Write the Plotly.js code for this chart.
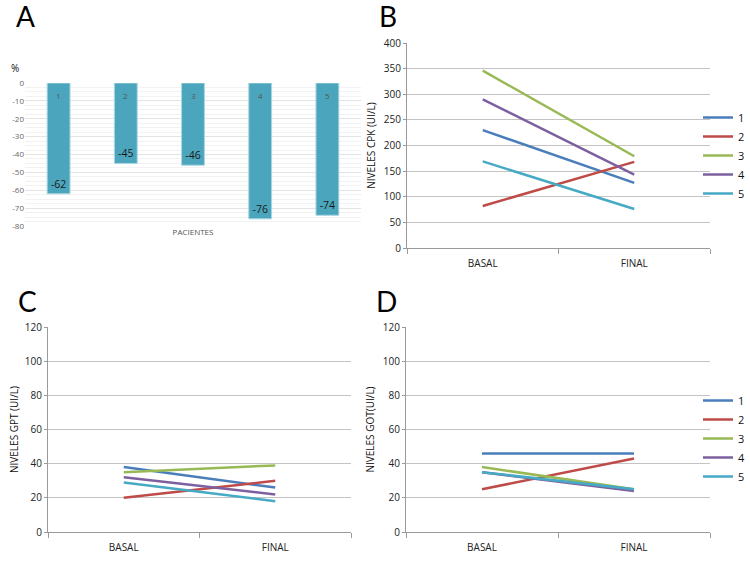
<!DOCTYPE html>
<html>
<head>
<meta charset="utf-8">
<script src="https://cdn.plot.ly/plotly-3.0.1.min.js"></script>
<style>html,body{margin:0;padding:0;background:#fff}#chart{width:750px;height:562px}</style>
</head>
<body>
<div id="chart"></div>
<script>
// ---- data ----
const pacientes = ['1', '2', '3', '4', '5'];
const cambioCPK = [-62, -45, -46, -76, -74];          // % change (panel A)
const pctTicks = [0, -10, -20, -30, -40, -50, -60, -70, -80];
const momentos = ['BASAL', 'FINAL'];
const cpkBasal = [230, 82, 346, 290, 169];
const cpkFinal = [127, 168, 179, 143, 76];
const gptBasal = [38, 20, 35, 32, 29];
const gptFinal = [26, 30, 39, 22, 18];
const gotBasal = [46, 25, 38, 35, 35];
const gotFinal = [46, 43, 25, 24, 25];
const seriesColors = ['#4a7ebb', '#be4b48', '#98b954', '#7d60a0', '#46aac5'];

const W = 750, H = 562;
const px = v => v / W;
const py = v => 1 - v / H;

const traces = [];
traces.push({
  type: 'bar', x: pacientes, y: cambioCPK, xaxis: 'x', yaxis: 'y',
  width: 0.34,
  marker: {color: '#4ba6bd', line: {color: '#a9d6e1', width: 1}},
  text: cambioCPK.map(String), texttemplate: '%{text}',
  textposition: 'inside', insidetextanchor: 'end', textangle: 0,
  textfont: {family: 'Open Sans', size: 10.5, color: '#1b1b1b'},
  showlegend: false, hoverinfo: 'x+y'
});

function addLines(basal, final, xa, ya, legendName, show) {
  for (let i = 0; i < pacientes.length; i++) {
    traces.push({
      type: 'scatter', mode: 'lines', x: momentos, y: [basal[i], final[i]],
      xaxis: xa, yaxis: ya, name: pacientes[i],
      line: {color: seriesColors[i], width: 2.5},
      showlegend: show, legend: legendName
    });
  }
}
addLines(cpkBasal, cpkFinal, 'x2', 'y2', 'legend', true);
addLines(gptBasal, gptFinal, 'x3', 'y3', 'legend', false);
addLines(gotBasal, gotFinal, 'x4', 'y4', 'legend2', true);

const tickFont = {family: 'Open Sans', size: 10, color: '#222'};
const titleFont = {family: 'Open Sans', size: 10, color: '#111'};

function lineX(domain, anchor) {
  return {domain: domain, anchor: anchor, type: 'category', showgrid: false, zeroline: false,
    showline: true, linecolor: '#9a9a9a', linewidth: 1,
    ticks: 'outside', tickson: 'boundaries', ticklen: 5, tickcolor: '#9a9a9a',
    ticklabelstandoff: 6, tickfont: tickFont, range: [-0.5, 1.5]};
}
function lineY(domain, anchor, range, dtick, title, standoff) {
  return {domain: domain, anchor: anchor, range: range, dtick: dtick, showgrid: true, gridcolor: '#c4c4c4',
    zeroline: false, showline: true, linecolor: '#9a9a9a', linewidth: 1,
    ticks: 'outside', ticklen: 3, tickcolor: '#9a9a9a', tickfont: tickFont,
    title: {text: title, font: titleFont, standoff: standoff}};
}

const annotations = [
  {text: 'A', x: px(14), y: py(16), xref: 'paper', yref: 'paper', xanchor: 'left', yanchor: 'middle', showarrow: false, font: {family: 'Lato', size: 28, color: '#000'}},
  {text: 'B', x: px(377), y: py(16), xref: 'paper', yref: 'paper', xanchor: 'left', yanchor: 'middle', showarrow: false, font: {family: 'Lato', size: 28, color: '#000'}},
  {text: 'C', x: px(16), y: py(301), xref: 'paper', yref: 'paper', xanchor: 'left', yanchor: 'middle', showarrow: false, font: {family: 'Lato', size: 28, color: '#000'}},
  {text: 'D', x: px(374), y: py(301), xref: 'paper', yref: 'paper', xanchor: 'left', yanchor: 'middle', showarrow: false, font: {family: 'Lato', size: 28, color: '#000'}},
  {text: '%', x: px(15), y: py(68), xref: 'paper', yref: 'paper', xanchor: 'center', yanchor: 'middle', showarrow: false, font: {family: 'Open Sans', size: 10, color: '#111'}}
];
// patient number at the top of each bar (category index on the bar axis)
pacientes.forEach((p, i) => annotations.push({
  text: p, x: i, y: 0, xref: 'x', yref: 'y', yanchor: 'top', yshift: -5, showarrow: false,
  font: {family: 'Open Sans', size: 8, color: '#555'}
}));

const layout = {
  width: W, height: H, autosize: false,
  margin: {l: 0, r: 0, t: 0, b: 0},
  paper_bgcolor: '#fff', plot_bgcolor: '#fff',
  font: {family: 'Open Sans'},
  xaxis: {domain: [px(25), px(361)], anchor: 'y', type: 'category', showticklabels: false, showgrid: false,
    zeroline: false, showline: false, ticks: '',
    title: {text: 'PACIENTES', font: {family: 'Open Sans', size: 8, color: '#555'}, standoff: 3}},
  yaxis: {domain: [py(226), py(83)], anchor: 'x', range: [-80, 0],
    tickmode: 'array', tickvals: pctTicks, ticktext: pctTicks.map(String),
    showgrid: true, gridcolor: '#e4e4e4',
    zeroline: false, showline: false, ticks: '', tickfont: {family: 'Open Sans', size: 8, color: '#666'},
    minor: {dtick: 2.5, showgrid: true, gridcolor: '#f2f2f2'}},
  xaxis2: lineX([px(407), px(710)], 'y2'),
  yaxis2: lineY([py(248), py(43)], 'x2', [0, 400], 50, 'NIVELES CPK (UI/L)', 6),
  xaxis3: lineX([px(48), px(351)], 'y3'),
  yaxis3: lineY([py(532), py(327)], 'x3', [0, 120], 20, 'NIVELES GPT (UI/L)', 4),
  xaxis4: lineX([px(406), px(710)], 'y4'),
  yaxis4: lineY([py(532), py(327)], 'x4', [0, 120], 20, 'NIVELES GOT(UI/L)', 6),
  legend: {x: px(698), y: py(103), xanchor: 'left', yanchor: 'top', bgcolor: 'rgba(0,0,0,0)',
    font: {family: 'Open Sans', size: 11, color: '#111'}, tracegroupgap: 0},
  legend2: {x: px(698), y: py(386), xanchor: 'left', yanchor: 'top', bgcolor: 'rgba(0,0,0,0)',
    font: {family: 'Open Sans', size: 11, color: '#111'}, tracegroupgap: 0},
  annotations: annotations,
  showlegend: true
};

Plotly.newPlot('chart', traces, layout, {displayModeBar: false, staticPlot: true});
</script>
</body>
</html>
